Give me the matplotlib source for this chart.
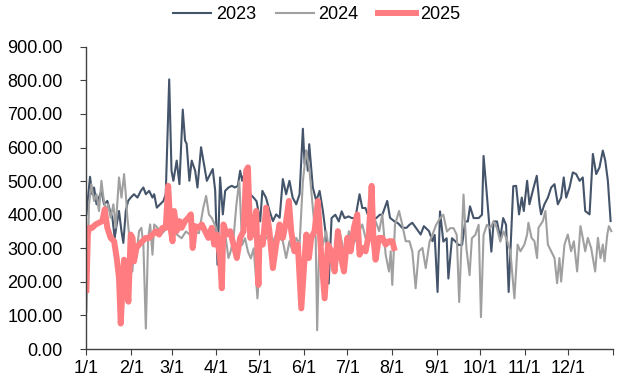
import numpy as np
import matplotlib
matplotlib.use("Agg")
import matplotlib.pyplot as plt

plt.rcParams['font.family'] = ['Liberation Sans', 'DejaVu Sans']

# ####################################################################
# data (day of year, value)

days_2023 = [0, 2.5, 4, 5.3, 7, 8.7, 10.4, 12.2, 14.5, 16.4, 18, 19.6, 21, 22.6, 24.3, 25.6,
             27.3, 28.9, 30.7, 33, 35.4, 37.7, 39.5, 41.2, 43.5, 45.8, 47, 48.8, 51.1, 53.4,
             55, 57.4, 59, 60.3, 62.6, 64.5, 66.8, 68.4, 69.5, 71.4, 73, 75.4, 77, 79.5,
             81.1, 83.5, 85.8, 87.6, 89.3, 90.9, 92.7, 94.6, 96.2, 98.5, 100.8, 103, 105,
             106.6, 108, 109.4, 111, 113.6, 115.9, 118, 120.5, 122, 124.5, 127, 129.3,
             131.6, 134, 136.2, 138.5, 140.8, 143, 145.5, 147.8, 150.1, 151.3, 152.4,
             153.5, 154.5, 157, 159.4, 161.7, 164, 166.3, 168, 170, 172.6, 175, 177, 179,
             181.8, 184, 186.5, 189.4, 191.3, 193.5, 196, 198.5, 201, 203.5, 205.2, 208.6,
             210.5, 213.6, 216, 219, 222, 224, 226, 228.5, 231.8, 234, 237.6, 240, 241.5,
             243.5, 245.2, 247.5, 249.8, 251, 253.5, 256, 258, 260.5, 262.7, 264.5, 266,
             268.5, 272, 274.3, 275.4, 277.3, 279, 280.8, 282.4, 284.7, 287, 289, 291,
             292.8, 296, 298, 300, 301.9, 303.3, 305.6, 307.2, 309.5, 312.3, 314.2, 315.3,
             317.6, 320, 322.3, 324.6, 326.9, 329.2, 331, 332.7, 335, 337.3, 339.6, 342,
             344.2, 345.9, 348.9, 351.2, 353.5, 355.8, 358.1, 359.8, 361.6, 363.5]
vals_2023 = [401, 513, 461, 481, 431, 451, 471, 431, 441, 411, 391, 331, 371, 411, 351, 316,
             411, 441, 451, 461, 451, 471, 481, 461, 471, 451, 461, 421, 431, 441,
             461, 803, 531, 501, 561, 491, 713, 621, 611, 501, 561, 531, 481, 601,
             561, 501, 521, 536, 471, 251, 511, 401, 471, 481, 486, 481, 486,
             531, 501, 521, 491, 461, 451, 440, 380, 471, 451, 411, 381,
             401, 391, 506, 461, 501, 451, 431, 461, 656, 551, 591,
             531, 610, 481, 441, 471, 411, 331, 195, 390, 400, 380, 410, 390,
             395, 390, 390, 461, 420, 420, 390, 385, 390, 400, 400, 441,
             391, 380, 375, 361, 361, 370, 376, 361, 341, 366, 351, 321, 340,
             170, 410, 320, 330, 210, 330, 320, 310, 310, 380, 380, 425,
             390, 390, 400, 575, 480, 390, 290, 380, 380, 330, 390, 370,
             170, 485, 486, 401, 451, 411, 501, 431, 471, 516, 431, 401,
             431, 451, 481, 491, 431, 451, 511, 451, 481, 526, 521, 501,
             511, 411, 401, 581, 521, 541, 591, 561, 501, 381]

days_2024 = [0, 1.8, 3.4, 5.3, 7, 8.7, 10.4, 11.8, 13.4, 15, 16.8, 18.7, 20.3, 22.6, 24.3,
             26.1, 27.3, 28.4, 30.3, 31.9, 33, 34.9, 36.5, 38.1, 39.5, 41.2, 42.8, 44.2,
             45.8, 47, 49.3, 51.6, 53.9, 56.2, 58.5, 60.8, 63, 66, 69, 72, 75, 78, 81, 83,
             85, 87, 90, 92, 94, 96, 98.5, 100, 102, 104, 106, 108, 110, 112, 114, 116,
             118.6, 121, 124.6, 127, 129.3, 131.6, 134, 136.2, 138.5, 140.8, 143, 145.5,
             147.8, 150.1, 152.4, 154.5, 157, 159, 160, 161.7, 164, 166.3, 168.6, 172,
             175.5, 178, 180, 182, 185, 188, 191.3, 193.5, 197, 200.5, 203, 205.2, 207.5,
             209.8, 211, 212.1, 214, 216.8, 219, 221.4, 224, 226, 228.3, 230.5, 233,
             235.3, 238, 240, 242.5, 245.3, 247.5, 250, 252.3, 254.6, 256.8, 258.5, 260.4,
             261.5, 263.5, 265.7, 267.3, 269.7, 272, 273.6, 275.4, 277.7, 280, 282.4,
             284.7, 287, 289.3, 291.6, 294, 296.8, 299, 301, 303.7, 305.6, 306.5, 308.7,
             310.7, 312.5, 313.5, 316.5, 318.3, 320, 322.3, 324.6, 326.4, 328, 329.2,
             331.5, 333.8, 336.1, 338, 340.3, 342.6, 344.2, 345.9, 347.7, 350, 352.8,
             354.7, 356.5, 358.1, 359.3, 361.2, 362.3, 364]
vals_2024 = [111, 431, 491, 441, 461, 411, 501, 451, 411, 431, 391, 431, 361, 511, 451,
             521, 461, 391, 311, 231, 311, 291, 351, 361, 311, 61, 331, 371,
             281, 371, 361, 341, 351, 361, 371, 351, 340, 330, 350, 340, 350, 345, 420, 456,
             400, 390, 360, 320, 300, 350, 271, 290, 330, 430, 500, 310, 330, 290, 270, 300,
             151, 311, 330, 341, 320, 341, 331, 321, 271, 321, 291, 331,
             311, 500, 590, 540, 420, 331, 56, 351, 311, 351, 281, 271,
             351, 301, 291, 351, 311, 340, 371, 331, 361, 381, 351, 401, 281,
             231, 291, 191, 371, 411, 371, 321, 321, 291, 181, 291, 301,
             241, 321, 341, 370, 390, 400, 350, 360, 360, 340, 140, 350,
             460, 300, 220, 330, 340, 370, 95, 340, 370, 360, 380,
             360, 320, 350, 325, 290, 151, 311, 291, 311, 341, 376, 331,
             321, 271, 361, 381, 411, 311, 291, 271, 196, 271, 201,
             311, 341, 291, 321, 231, 366, 331, 291, 331, 301, 231,
             331, 271, 311, 261, 341, 366, 351]

days_2025 = [0, 1, 1.8, 4, 6.4, 8.7, 11, 12.7, 14.5, 16.8, 19.2, 21, 22.6, 23.8, 25, 26.1,
             27.7, 29.1, 30.7, 32, 33, 34.7, 36.5, 38.8, 41.2, 43.5, 45.8, 48.1, 50.4, 52.7,
             55, 56.7, 58.3, 59.7, 60.8, 62.6, 64.5, 66, 68.4, 70.7, 72.4, 73.7, 75.4, 77.7,
             80, 82.3, 84.6, 86.9, 88.6, 90.4, 92.7, 93.9, 95, 97.4, 99.7, 102, 104.3, 106.6,
             109, 110.8, 112, 113.6, 115.9, 117.7, 119.3, 120, 122.3, 124.6, 126.9, 129.3,
             131.6, 133.9, 136.2, 138.5, 140.4, 142, 144.3, 146.6, 149, 151.3, 152.5, 154.3,
             155.9, 158.2, 160.5, 162.8, 165.2, 167.5, 169.8, 172.1, 174.4, 176.7, 178.6,
             180.9, 183.2, 185.5, 187.8, 189.4, 191.2, 193.6, 195.8, 197.8, 199, 200.5,
             202.8, 205.2, 207.5, 209.8, 212.1, 213.3]
vals_2025 = [176, 340, 361, 361, 371, 376, 381, 416, 361, 331, 321, 271, 211, 76, 181, 266,
             211, 141, 341, 331, 261, 301, 311, 321, 331, 331, 341, 351, 341, 361,
             361, 486, 361, 321, 411, 351, 381, 361, 381, 391, 401, 301, 366, 361,
             371, 351, 331, 361, 311, 341, 271, 181, 371, 341, 351, 311, 271, 331,
             351, 531, 541, 331, 361, 411, 191, 331, 311, 421, 351, 241,
             311, 371, 331, 381, 441, 351, 291, 311, 121, 271, 341, 271,
             331, 351, 441, 281, 151, 311, 291, 231, 351, 271, 231,
             331, 291, 361, 401, 281, 301, 291, 341, 486, 331, 266,
             331, 331, 311, 321, 321, 301]

month_ticks = [0, 31, 59, 90, 120, 151, 181, 212, 243, 273, 304, 334, 365]
month_labels = ["1/1", "2/1", "3/1", "4/1", "5/1", "6/1", "7/1", "8/1", "9/1",
                "10/1", "11/1", "12/1", ""]

# ####################################################################
# plot

fig = plt.figure(figsize=(6.24, 3.90), dpi=100)
ax = fig.add_axes([0.1385, 0.105, 0.8435, 0.775])

ax.plot(days_2023, vals_2023, color='#44546A', lw=1.5, label='2023')
ax.plot(days_2024, vals_2024, color='#A0A0A0', lw=1.5, label='2024')
ax.plot(days_2025, vals_2025, color='#FF7C80', lw=4.3, label='2025',
        solid_joinstyle='round')

ax.set_xlim(0, 365)
ax.set_ylim(0, 900)
ax.set_yticks(np.arange(0, 901, 100))
ax.set_yticklabels([f"{v:.2f}" for v in np.arange(0, 901, 100)])
ax.set_xticks(month_ticks)
ax.set_xticklabels(month_labels)

for s in ['top', 'right']:
    ax.spines[s].set_visible(False)
for s in ['left', 'bottom']:
    ax.spines[s].set_color('#404040')
    ax.spines[s].set_linewidth(1.0)
ax.tick_params(axis='both', direction='out', length=4, color='#404040',
               labelsize=13, labelcolor='black')
ax.tick_params(axis='y', pad=13)
ax.tick_params(axis='x', pad=4)

fig.legend(loc='center', bbox_to_anchor=(0.508, 0.962), ncol=3, frameon=False,
           fontsize=13, handlelength=2.1, handletextpad=0.25, columnspacing=1.1)

plt.savefig("out.png", dpi=100)
